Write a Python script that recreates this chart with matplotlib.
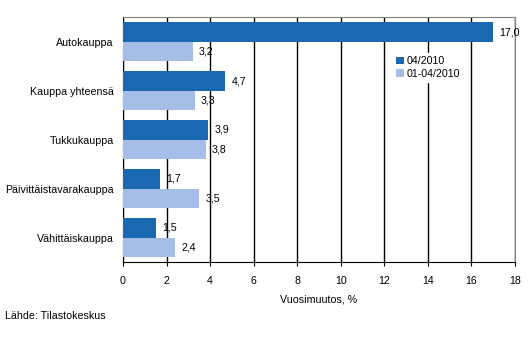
import numpy as np
import matplotlib.pyplot as plt

plt.rcParams['font.family'] = ['Liberation Sans', 'DejaVu Sans']
plt.rcParams['font.size'] = 7.7

# data
categories = ['Autokauppa', 'Kauppa yhteensä', 'Tukkukauppa',
              'Päivittäistavarakauppa', 'Vähittäiskauppa']
month_vals = [17.0, 4.7, 3.9, 1.7, 1.5]
ytd_vals = [3.2, 3.3, 3.8, 3.5, 2.4]
series_names = ['04/2010', '01-04/2010']

dark = '#1a69b0'
light = '#a6bde8'

fig = plt.figure(figsize=(5.29, 3.56), dpi=100)
ax = fig.add_axes([0.2325, 0.264, 0.741, 0.688])

y = np.arange(len(categories))
h = 0.39
b1 = ax.barh(y - h / 2, month_vals, height=h, color=dark, label=series_names[0], zorder=3)
b2 = ax.barh(y + h / 2, ytd_vals, height=h, color=light, label=series_names[1], zorder=3)

for bars, vals in ((b1, month_vals), (b2, ytd_vals)):
    for r, v in zip(bars, vals):
        ax.annotate(('%.1f' % v).replace('.', ','),
                    (r.get_width(), r.get_y() + r.get_height() / 2),
                    xytext=(4.5, 0), textcoords='offset points',
                    va='center', ha='left', zorder=4)

ax.set_xlim(0, 18)
ax.set_ylim(len(categories) - 0.5, -0.5)
ax.set_xticks(range(0, 19, 2))
ax.set_yticks(y)
ax.set_yticklabels(categories)
ax.tick_params(axis='y', length=0, pad=6.5)
ax.tick_params(axis='x', length=3, color='black', pad=7)
ax.xaxis.grid(True, color='black', linewidth=1, zorder=0)
ax.set_axisbelow(True)

for s in ('top', 'right'):
    ax.spines[s].set_color('#808080')
for s in ('left', 'bottom'):
    ax.spines[s].set_color('black')

ax.set_xlabel('Vuosimuutos, %', labelpad=6)

leg = ax.legend(loc='upper left', bbox_to_anchor=(0.675, 0.875), frameon=True,
                fancybox=False, edgecolor='white', framealpha=1,
                handlelength=0.7, handleheight=0.7, handletextpad=0.3,
                borderpad=0.3, labelspacing=0.25)

fig.text(5 / 529, 1 - 316 / 356, 'Lähde: Tilastokeskus', va='center')

fig.savefig('out.png', dpi=100)
